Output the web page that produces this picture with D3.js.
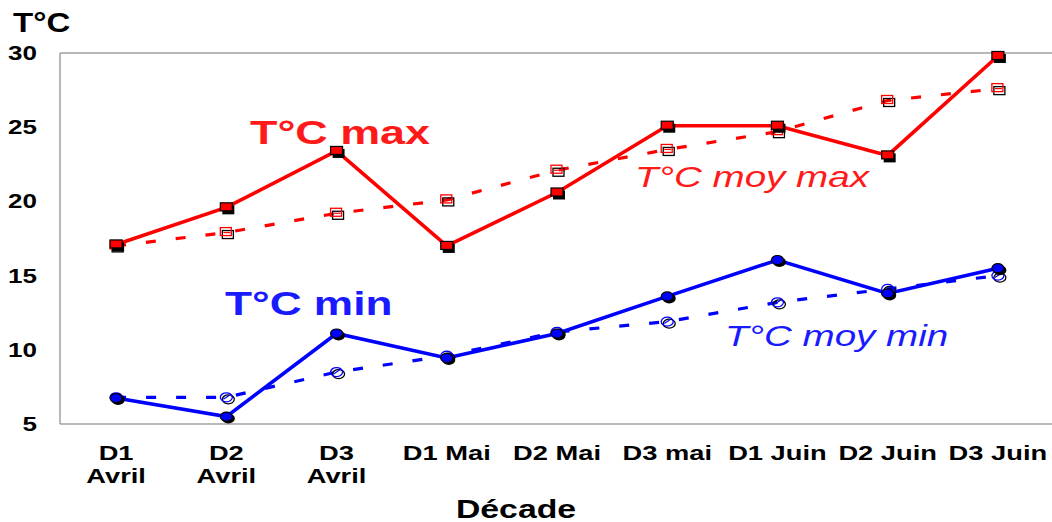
<!DOCTYPE html>
<html><head><meta charset="utf-8">
<script src="https://cdn.jsdelivr.net/npm/d3@7"></script>
<style>body{margin:0;background:#fff}svg{display:block}text{font-family:"Liberation Sans",Arial,sans-serif}</style>
</head><body><svg id="c" width="1052" height="522"></svg>
<script>
const categories = [["D1","Avril"],["D2","Avril"],["D3","Avril"],["D1 Mai"],["D2 Mai"],["D3 mai"],["D1 Juin"],["D2 Juin"],["D3 Juin"]];
const tmax    = [17.1, 19.6, 23.4, 17.0, 20.6, 25.1, 25.1, 23.1, 29.8];
const tmoyMax = [17.0, 17.9, 19.2, 20.1, 22.1, 23.5, 24.7, 26.8, 27.6];
const tmin    = [6.75, 5.5, 11.1, 9.45, 11.1, 13.6, 16.05, 13.8, 15.5];
const tmoyMin = [6.8, 6.8, 8.5, 9.6, 11.2, 11.9, 13.2, 14.1, 15.0];
const yTicks  = [5, 10, 15, 20, 25, 30];

const svg = d3.select("#c");
const SX = 1.3;
const keys = categories.map((c,i)=>i);
const x = d3.scaleBand().domain(keys).range([61, 1053]);
const y = d3.scaleLinear().domain([5, 30]).range([424, 53]);
const cx = i => x(i) + x.bandwidth()/2;

// frame
svg.append("line").attr("x1",60).attr("x2",60).attr("y1",y(30)).attr("y2",y(5)).attr("stroke","#a0a0a0").attr("stroke-width",1.5);
svg.append("line").attr("x1",60).attr("x2",1052).attr("y1",y(30)).attr("y2",y(30)).attr("stroke","#a0a0a0").attr("stroke-width",1.5);
svg.append("line").attr("x1",60).attr("x2",1052).attr("y1",y(5)).attr("y2",y(5)).attr("stroke","#a0a0a0").attr("stroke-width",1.5);

function stretchText(g, tx, ty, str, opts){
  const t = g.append("text").attr("transform",`translate(${tx},${ty}) scale(${opts.sx||SX},1)`)
    .attr("text-anchor",opts.anchor||"middle").attr("font-size",opts.size).attr("font-weight",opts.weight||"bold")
    .attr("font-style",opts.style||"normal").attr("fill",opts.fill||"#000").text(str);
  return t;
}

// y ticks
const gy = svg.append("g");
yTicks.forEach(v => stretchText(gy, 37, y(v)+7, String(v), {size:20, anchor:"end"}));
// x ticks
const gx = svg.append("g");
categories.forEach((c,i) => c.forEach((ln,j) => stretchText(gx, cx(i), 460 + j*23, ln, {size:21})));
// axis titles
stretchText(svg, 516, 518, "Décade", {size:26});
stretchText(svg, 13, 32, "T°C", {size:28, anchor:"start", sx:1.18});

const line = d3.line().x((d,i)=>cx(i)).y(d=>y(d));
// dashed lines
svg.append("path").attr("d",line(tmoyMax)).attr("fill","none").attr("stroke","#ff0000").attr("stroke-width",3.2).attr("stroke-dasharray","10,20");
svg.append("path").attr("d",line(tmoyMin)).attr("fill","none").attr("stroke","#0000ff").attr("stroke-width",3.2).attr("stroke-dasharray","10,20");
// solid lines
svg.append("path").attr("d",line(tmax)).attr("fill","none").attr("stroke","#ff0000").attr("stroke-width",3.6);
svg.append("path").attr("d",line(tmin)).attr("fill","none").attr("stroke","#0000ff").attr("stroke-width",3.6);

// markers
const mm = svg.append("g");
tmoyMax.forEach((v,i)=>{
  mm.append("rect").attr("x",cx(i)-4).attr("y",y(v)-2).attr("width",11).attr("height",8).attr("fill","none").attr("stroke","#000").attr("stroke-width",1.3);
  mm.append("rect").attr("x",cx(i)-6).attr("y",y(v)-5).attr("width",11).attr("height",8).attr("fill","none").attr("stroke","#ff0000").attr("stroke-width",1.3);
  mm.append("line").attr("x1",cx(i)-3).attr("x2",cx(i)+4).attr("y1",y(v)).attr("y2",y(v)).attr("stroke","#ff0000").attr("stroke-width",1.2);
});
tmoyMin.forEach((v,i)=>{
  mm.append("ellipse").attr("cx",cx(i)+2).attr("cy",y(v)+2).attr("rx",6).attr("ry",4.5).attr("fill","none").attr("stroke","#000").attr("stroke-width",1.3);
  mm.append("ellipse").attr("cx",cx(i)).attr("cy",y(v)).attr("rx",6).attr("ry",4.5).attr("fill","none").attr("stroke","#0000ff").attr("stroke-width",1.3);
  mm.append("line").attr("x1",cx(i)-3).attr("x2",cx(i)+3).attr("y1",y(v)+2).attr("y2",y(v)-2).attr("stroke","#0000ff").attr("stroke-width",1.2);
});
tmax.forEach((v,i)=>{
  mm.append("rect").attr("x",cx(i)-4).attr("y",y(v)-2).attr("width",12).attr("height",9).attr("fill","#000");
  mm.append("rect").attr("x",cx(i)-6).attr("y",y(v)-4.5).attr("width",12).attr("height",8).attr("fill","#ff0000").attr("stroke","#000").attr("stroke-width",1.2);
});
tmin.forEach((v,i)=>{
  mm.append("ellipse").attr("cx",cx(i)+2).attr("cy",y(v)+2).attr("rx",6.5).attr("ry",5).attr("fill","#000");
  mm.append("ellipse").attr("cx",cx(i)).attr("cy",y(v)).attr("rx",6).attr("ry",4.5).attr("fill","#0000ff").attr("stroke","#000").attr("stroke-width",1.2);
});

// series labels
stretchText(svg, 250, 144, "T°C max", {size:34, anchor:"start", fill:"#ff1a1a", sx:1.32});
stretchText(svg, 225, 315, "T°C min", {size:34, anchor:"start", fill:"#1a1aff", sx:1.3});
stretchText(svg, 635, 187, "T°C moy max", {size:29, anchor:"start", weight:"normal", style:"italic", fill:"#ff1a1a", sx:1.33});
stretchText(svg, 725, 346, "T°C moy min", {size:29, anchor:"start", weight:"normal", style:"italic", fill:"#1a1aff", sx:1.33});
</script></body></html>
